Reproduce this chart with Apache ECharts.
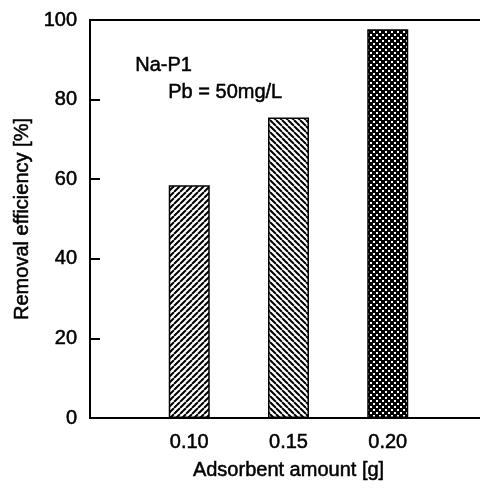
<!DOCTYPE html>
<html>
<head>
<meta charset="utf-8">
<script src="https://cdn.jsdelivr.net/npm/echarts@6/dist/echarts.min.js"></script>
<style>
  html, body { margin: 0; padding: 0; background: #fff; }
  #chart { width: 480px; height: 495px; }
</style>
</head>
<body>
<div id="chart"></div>
<script>
// data
const amounts = [0.10, 0.15, 0.20]
const removal = [58.5, 75.5, 97.7]
const yTicks = [0, 20, 40, 60, 80, 100]
const noteLines = ['Na-P1', 'Pb = 50mg/L']

const FONT = '"Liberation Sans", Arial, sans-serif'
// scanned text looks a bit heavier than plain Arial
const ink = { fontFamily: FONT, fontSize: 20, color: '#000', textBorderColor: '#000', textBorderWidth: 0.5 }

// hatch fills
const makeTile = (draw, size) => {
  const c = document.createElement('canvas')
  c.width = size
  c.height = size
  const ctx = c.getContext('2d')
  ctx.fillStyle = '#fff'
  ctx.fillRect(0, 0, size, size)
  draw(ctx, size)
  return c
}

const stripes = (dir) => makeTile((ctx, s) => {
  ctx.strokeStyle = '#000'
  ctx.lineWidth = 2
  ctx.beginPath()
  for (let k = -1; k <= 1; k++) {
    if (dir > 0) {
      ctx.moveTo(k * s, s); ctx.lineTo(k * s + s, 0)
    } else {
      ctx.moveTo(k * s, 0); ctx.lineTo(k * s + s, s)
    }
  }
  ctx.stroke()
}, 6)

const cross = makeTile((ctx, s) => {
  ctx.fillStyle = '#000'
  ctx.fillRect(0, 0, s, s)
  ctx.fillStyle = '#fff'
  ctx.fillRect(1, 1, 2, 2)
  ctx.fillRect(4, 4, 2, 2)
}, 6)

const fills = [stripes(1), stripes(-1), cross]

const chart = echarts.init(document.getElementById('chart'), null, { renderer: 'canvas' })

const option = {
  animation: false,
  backgroundColor: '#fff',
  grid: {
    left: 90, top: 20, right: -7, bottom: 77,
    outerBoundsMode: 'none',
    show: true, borderColor: '#000', borderWidth: 2, backgroundColor: 'transparent'
  },
  xAxis: {
    type: 'value',
    min: 0.05, max: 0.25, interval: 0.05,
    name: 'Adsorbent amount [g]',
    nameLocation: 'middle',
    nameGap: 42,
    nameTextStyle: ink,
    axisLine: { show: true, lineStyle: { color: '#000', width: 2 } },
    axisTick: { show: false },
    splitLine: { show: false },
    axisLabel: {
      ...ink,
      margin: 14,
      formatter: v => amounts.some(a => Math.abs(a - v) < 1e-6) ? v.toFixed(2) : ''
    }
  },
  yAxis: {
    type: 'value',
    min: yTicks[0], max: yTicks[yTicks.length - 1], interval: 20,
    name: 'Removal efficiency [%]',
    nameLocation: 'middle',
    nameGap: 58,
    nameTextStyle: ink,
    axisLine: { show: true, lineStyle: { color: '#000', width: 2 } },
    axisTick: { show: true, inside: true, length: 10, lineStyle: { color: '#000', width: 2 } },
    splitLine: { show: false },
    axisLabel: { ...ink, margin: 13 }
  },
  graphic: [
    { type: 'text', left: 135, top: 55, style: { text: noteLines[0], font: '20px ' + FONT, fill: '#000', stroke: '#000', lineWidth: 0.5 } },
    { type: 'text', left: 168, top: 82, style: { text: noteLines[1], font: '20px ' + FONT, fill: '#000', stroke: '#000', lineWidth: 0.5 } }
  ],
  series: [{
    type: 'bar',
    barWidth: 41,
    data: amounts.map((a, i) => ({
      value: [a, removal[i]],
      itemStyle: {
        color: { image: fills[i], repeat: 'repeat' },
        borderColor: '#000',
        borderWidth: 1.5
      }
    }))
  }]
}

chart.setOption(option)
</script>
</body>
</html>
